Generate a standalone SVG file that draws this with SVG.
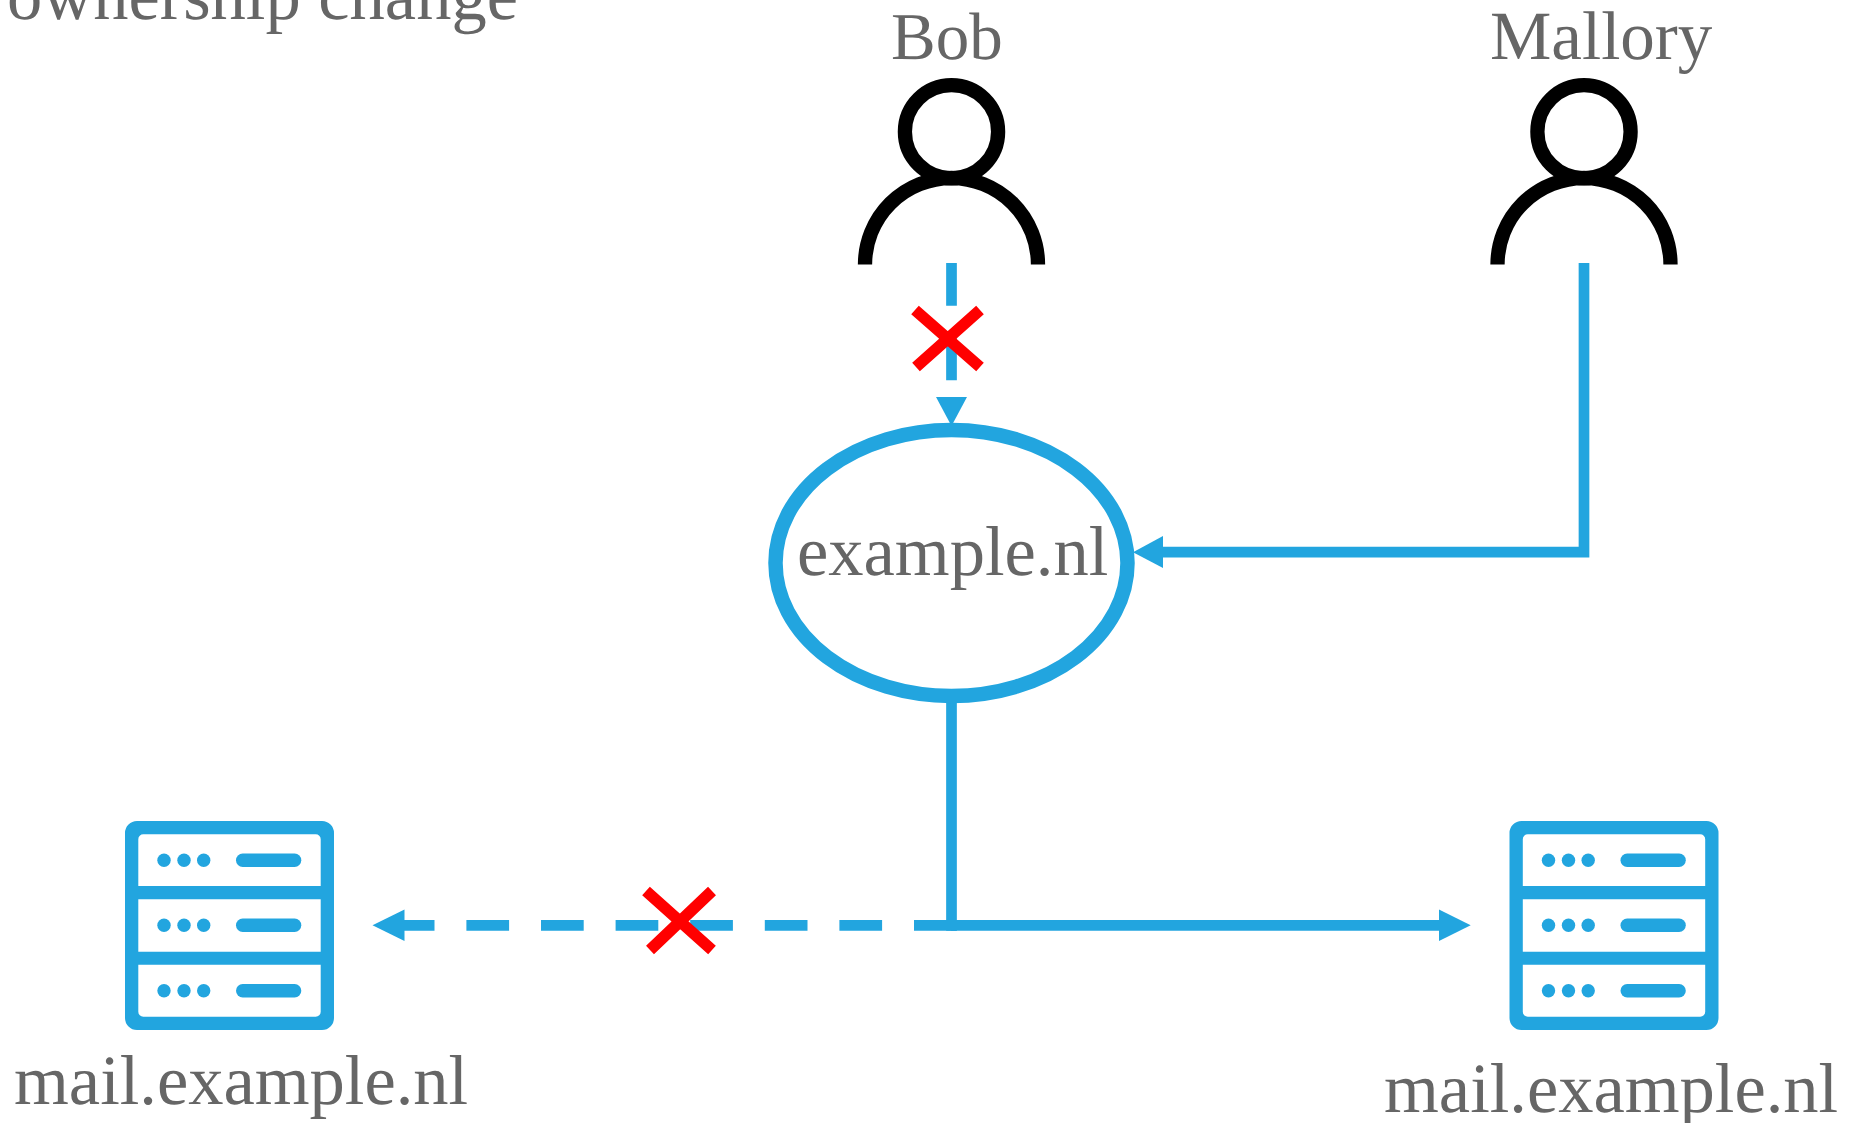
<svg xmlns="http://www.w3.org/2000/svg" width="1852" height="1123" viewBox="0 0 1852 1123">
<style>
text{font-family:"Liberation Serif","Times New Roman",serif;font-size:70.500px;fill:#666;text-rendering:geometricPrecision}
.p{fill:none;stroke:#000;stroke-width:14.300}
.c{fill:none;stroke:#22a5df;stroke-width:10.700}
.d{stroke-dasharray:42.700 31.900}
.h{fill:#22a5df}
.x{stroke:#f00;stroke-width:11.500;fill:none}
</style>
<defs>
<g id="person"><circle cx="0" cy="131.700" r="46.600" class="p"/><path d="M-86.500 264.500A86.500 86.500 0 0 1 86.500 264.500" class="p"/></g>
<g id="server">
<path class="h" fill-rule="evenodd" d="M137 821H322A12 12 0 0 1 334 833V1018A12 12 0 0 1 322 1030H137A12 12 0 0 1 125 1018V833A12 12 0 0 1 137 821ZM143.300 834.300A5 5 0 0 0 138.300 839.300V886H320.700V839.300A5 5 0 0 0 315.700 834.300ZM138.300 899.300V951.700H320.700V899.300ZM138.300 964.700V1011.700A5 5 0 0 0 143.300 1016.700H315.700A5 5 0 0 0 320.700 1011.700V964.700Z"/>
<g class="h"><circle cx="164" cy="860.300" r="6.700"/><circle cx="184" cy="860.300" r="6.700"/><circle cx="203.700" cy="860.300" r="6.700"/><rect x="236" y="853.600" width="65.300" height="13.400" rx="6.700"/>
<circle cx="164" cy="925.300" r="6.700"/><circle cx="184" cy="925.300" r="6.700"/><circle cx="203.700" cy="925.300" r="6.700"/><rect x="236" y="918.600" width="65.300" height="13.400" rx="6.700"/>
<circle cx="164" cy="990.700" r="6.700"/><circle cx="184" cy="990.700" r="6.700"/><circle cx="203.700" cy="990.700" r="6.700"/><rect x="236" y="984" width="65.300" height="13.400" rx="6.700"/></g>
</g>
</defs>
<text id="title" x="7" y="18.500">ownership change</text>
<g id="connectors">
<path d="M951.500 263V381" class="c d"/>
<path d="M936 397H967L951.500 426Z" class="h"/>
<path d="M1584 263V552.200H1160" class="c"/>
<path d="M1163 536V568L1133 552.200Z" class="h"/>
<path d="M951.500 700V930.700" class="c"/>
<path d="M956.700 925.300H404" class="c d"/>
<path d="M404.500 909.500V941L372.500 925.300Z" class="h"/>
<path d="M951 925.300H1442" class="c"/>
<path d="M1439 909.500V941L1470.700 925.300Z" class="h"/>
</g>
<g id="bob"><text x="891" y="58.500" style="font-size:67px">Bob</text><use href="#person" x="951.500"/></g>
<g id="mallory"><text x="1490" y="58.500" style="font-size:69px">Mallory</text><use href="#person" x="1584"/></g>
<g id="domain"><ellipse cx="951.500" cy="563" rx="176" ry="133" fill="none" stroke="#22a5df" stroke-width="14.500"/><text x="797" y="575">example.nl</text></g>
<g id="mail-left"><use href="#server"/><text x="14" y="1104">mail.example.nl</text></g>
<g id="mail-right"><use href="#server" x="1384.500"/><text x="1384" y="1112">mail.example.nl</text></g>
<g id="blocks">
<path d="M915 310L980 367M980 310L916 367" class="x"/>
<path d="M646 891L712 950M712 891L650 950" class="x"/>
</g>
</svg>
